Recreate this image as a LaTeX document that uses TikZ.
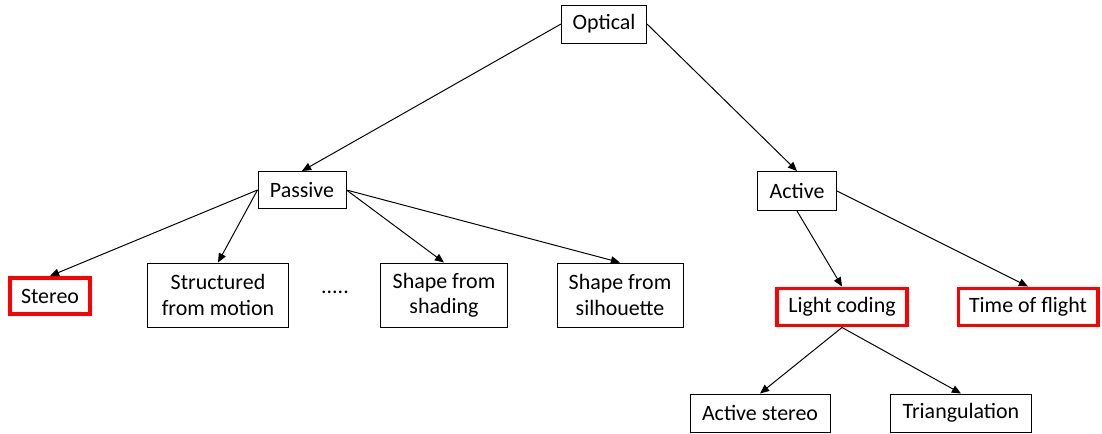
\documentclass[tikz,border=0pt]{standalone}
\usepackage{fontspec}
\setmainfont{Carlito}
\usetikzlibrary{arrows.meta}

\begin{document}
\begin{tikzpicture}[x=0.025cm,y=-0.025cm,
    box/.style={draw,line width=0.7pt,inner sep=0pt,align=center,font=\fontsize{15.6}{18}\selectfont},
    hot/.style={box,draw=red,line width=2.8pt},
    arr/.style={-{Triangle[length=6.5pt,width=5.5pt]},line width=0.7pt}]
    \useasboundingbox (0,0) rectangle (1102,433);

    \node[box,minimum width=2.125cm,minimum height=0.95cm] (opt) at (604,24) {Optical};

    \node[box,minimum width=2.2cm,minimum height=0.925cm] (pas) at (302,190) {Passive};
    \node[box,minimum width=1.975cm,minimum height=0.975cm] (act) at (797,191) {Active};

    \node[hot,minimum width=2.0cm,minimum height=0.9cm] (ste) at (50,296) {Stereo};
    \node[box,minimum width=3.525cm,minimum height=1.6cm] (sfm) at (218,295) {Structured\\from motion};
    \node[font=\fontsize{15.6}{18}\selectfont] (dots) at (335,292) {.....};
    \node[box,minimum width=3.15cm,minimum height=1.6cm] (sfs) at (444,295) {Shape from\\shading};
    \node[box,minimum width=3.15cm,minimum height=1.6cm] (sil) at (620,295) {Shape from\\silhouette};

    \node[hot,minimum width=3.25cm,minimum height=0.925cm] (lc) at (842,307) {Light coding};
    \node[hot,minimum width=3.475cm,minimum height=0.925cm] (tof) at (1028,307) {Time of flight};

    \node[box,minimum width=3.5cm,minimum height=0.95cm] (ast) at (760,413) {Active stereo};
    \node[box,minimum width=3.525cm,minimum height=0.95cm] (tri) at (961,413) {Triangulation};

    \draw[arr] (opt.west) -- (pas.north);
    \draw[arr] (opt.east) -- (act.north);
    \draw[arr] (pas.west) -- (ste.north);
    \draw[arr] (pas.west) -- (sfm.north);
    \draw[arr] (pas.east) -- (sfs.north);
    \draw[arr] (pas.east) -- (sil.north);
    \draw[arr] (act.south) -- (lc.north);
    \draw[arr] (act.east) -- (tof.north);
    \draw[arr] (lc.south) -- (ast.north);
    \draw[arr] (lc.south) -- (tri.north);
\end{tikzpicture}
\end{document}
